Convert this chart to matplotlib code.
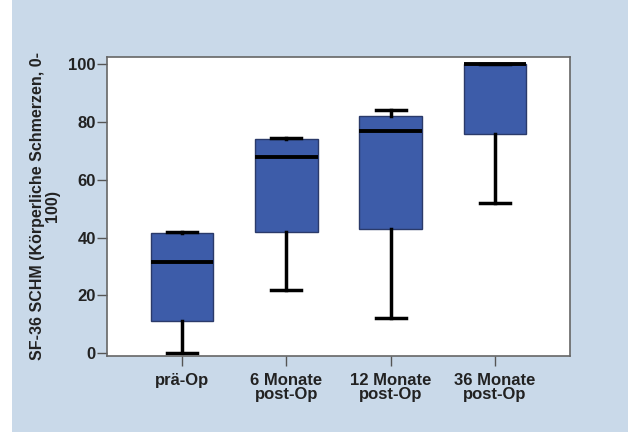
import matplotlib.pyplot as plt
from matplotlib.patches import Rectangle

plt.rcParams['font.family'] = ['Liberation Sans', 'DejaVu Sans']

groups = ['prä-Op', '6 Monate\npost-Op', '12 Monate\npost-Op', '36 Monate\npost-Op']
whislo = [0, 22, 12, 52]
q1 = [11, 42, 43, 76]
med = [31.5, 68, 77, 100]
q3 = [41.5, 74, 82, 100]
whishi = [42, 74.5, 84, 100]

stats = []
for i in range(len(groups)):
    stats.append({'label': groups[i], 'whislo': whislo[i], 'q1': q1[i], 'med': med[i],
                  'q3': q3[i], 'whishi': whishi[i], 'fliers': []})

bg = '#c9d9e9'
fig = plt.figure(figsize=(6.28, 4.32), dpi=100, facecolor=bg)
# white strip on the left edge
fig.patches.append(Rectangle((0, 0), 12 / 628, 1, transform=fig.transFigure,
                             facecolor='white', edgecolor='none', zorder=0))

ax = fig.add_axes([0.170, 0.176, 0.738, 0.692])
ax.bxp(stats, positions=[1, 2, 3, 4], widths=0.6, patch_artist=True,
       boxprops=dict(facecolor='#3d5ca9', edgecolor='#2a3a6a', linewidth=1),
       medianprops=dict(color='black', linewidth=2.8),
       whiskerprops=dict(color='black', linewidth=2.5),
       capprops=dict(color='black', linewidth=2.5),
       capwidths=0.29, showfliers=False)

ax.set_xlim(0.28, 4.72)
ax.set_ylim(-1, 102.5)
ax.set_yticks([0, 20, 40, 60, 80, 100])
ax.set_xticks([1, 2, 3, 4])
ax.set_xticklabels(groups, fontweight='bold', fontsize=12, color='#222222',
                   linespacing=0.95)
for lab in ax.get_yticklabels():
    lab.set_fontweight('bold')
    lab.set_fontsize(12)
    lab.set_color('#222222')
ax.tick_params(direction='out', length=7, width=1, color='#555555')
ax.tick_params(axis='x', pad=5)
ax.tick_params(axis='y', pad=1)
for s in ax.spines.values():
    s.set_color('#666666')
    s.set_linewidth(1.2)
ax.set_ylabel('SF-36 SCHM (Körperliche Schmerzen, 0-\n100)', fontweight='bold',
              fontsize=11.5, color='#222222', labelpad=6, linespacing=0.95)

fig.savefig('out.png', dpi=100, facecolor=bg)
